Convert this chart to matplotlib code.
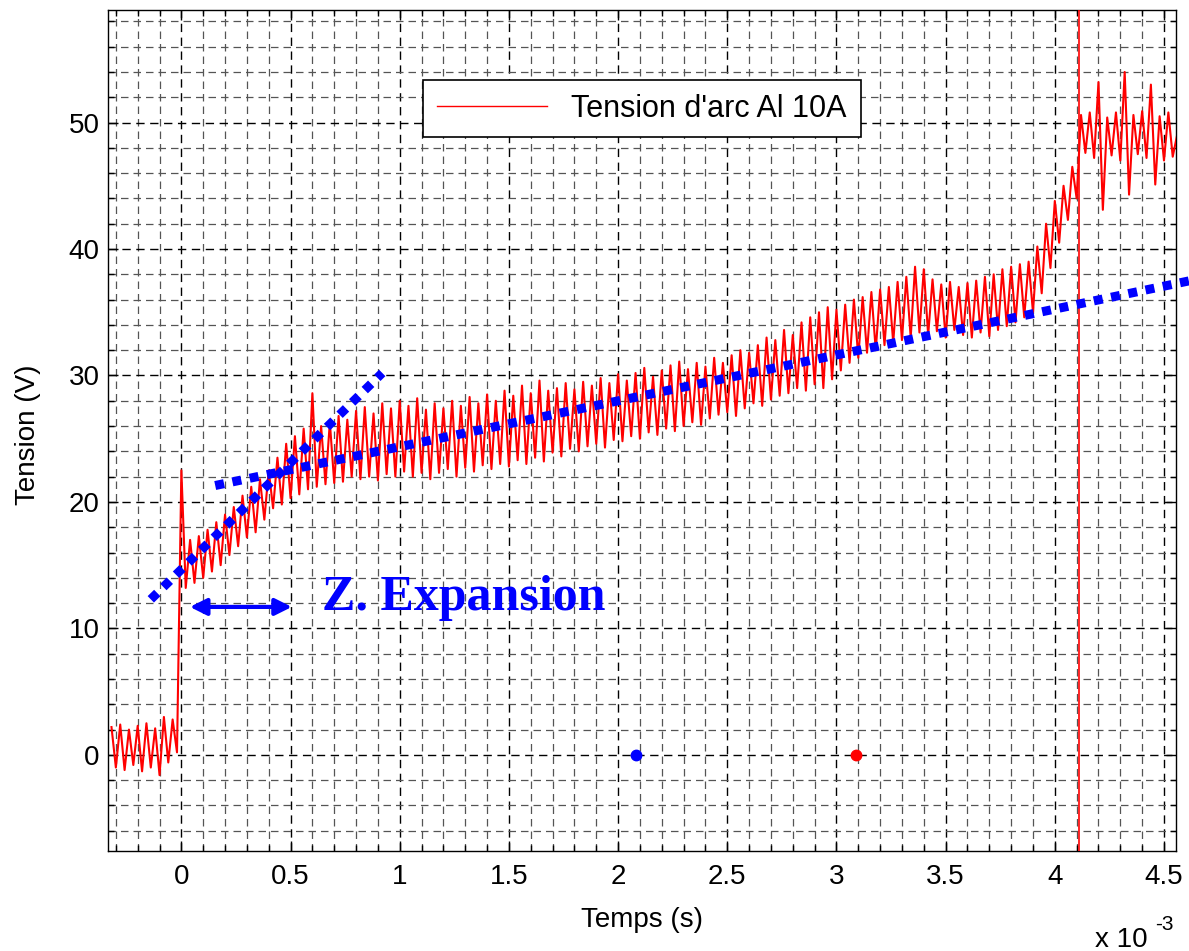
import numpy as np
import matplotlib
matplotlib.use("Agg")
import matplotlib.pyplot as plt
from matplotlib.ticker import MultipleLocator

plt.rcParams['font.family'] = ['Liberation Sans', 'DejaVu Sans']

# arc voltage, one sample every 0.02 ms starting at -0.32 ms
t_start = -0.32
dt = 0.02
tension = [
    2.2, -1.0, 2.4, -1.2, 2.0, -0.8, 2.3, -1.3, 2.5, -1.0, 2.1, -1.6, 3.0, -0.6, 2.8, 0.2,
    22.5, 13.2, 17.0, 13.6, 17.3, 14.0,
    17.8, 14.5, 18.4, 15.0, 19.0,
    15.8, 19.6, 16.5, 20.5, 17.2,
    21.2, 17.6, 21.8, 18.6, 22.5,
    19.5, 23.5, 19.8, 24.6, 20.3,
    25.2, 20.6, 25.8, 21.0, 28.6,
    21.2, 26.0, 21.4, 26.3, 21.5,
    26.8, 21.6, 26.5, 22.0, 27.2,
    21.8, 27.5, 22.0, 27.0, 21.7,
    27.8, 22.2, 27.4, 22.0, 28.0,
    22.4, 27.6, 22.0, 28.2, 22.3,
    27.3, 21.8, 27.8, 22.3, 27.4,
    22.6, 28.0, 22.0, 27.6, 22.7,
    28.3, 22.4, 27.8, 22.9, 28.5,
    22.6, 28.0, 23.0, 28.8, 22.8,
    28.4, 23.3, 29.2, 23.0, 28.6,
    23.5, 29.6, 23.2, 28.8, 23.9,
    29.0, 23.6, 29.4, 24.2, 28.9,
    24.0, 29.5, 24.4, 29.2, 24.6,
    29.8, 24.3, 29.4, 24.9, 30.1,
    24.8, 29.6, 25.2, 30.2, 25.0,
    30.6, 25.5, 29.9, 25.3, 30.4,
    25.8, 30.8, 25.6, 31.1, 26.0,
    30.5, 26.3, 31.0, 26.1, 30.7,
    26.6, 31.4, 26.9, 31.0, 27.1,
    31.6, 26.8, 32.0, 27.4, 31.8,
    27.8, 32.4, 27.6, 33.0, 28.1,
    32.8, 28.4, 33.6, 28.6, 33.2,
    29.0, 34.2, 28.8, 34.6, 29.3,
    35.0, 29.0, 35.4, 29.7, 35.2,
    30.4, 35.6, 31.0, 36.0, 31.4,
    36.2, 31.8, 36.6, 32.0, 36.8,
    32.4, 37.0, 32.6, 37.4, 32.8,
    37.8, 33.0, 38.6, 33.4, 38.4,
    33.2, 37.6, 33.5, 37.2, 33.0,
    37.4, 33.6, 37.0, 33.2, 37.3,
    33.0, 37.5, 33.4, 37.8, 33.1,
    38.0, 33.6, 38.4, 33.9, 38.6,
    34.2, 38.8, 34.6, 39.0, 35.0,
    40.2, 36.5, 42.0, 38.5, 43.8,
    40.5, 45.0, 42.3, 46.5, 44.0,
    50.6, 47.6, 50.8, 47.2, 53.2, 43.1, 50.4, 47.4, 50.8, 47.0, 54.0, 44.3,
    50.6, 47.5, 50.9, 47.2, 53.0, 45.1, 50.5, 47.0, 50.8, 47.3, 49.0,
]
temps = t_start + dt * np.arange(len(tension))

# hand drawn trend lines (ms, V)
trend1_t = [-0.14, 0.92]
trend1_v = [12.3, 30.2]
trend2_t = [0.155, 4.62]
trend2_v = [21.3, 37.5]

# expansion arrow (ms) and its height (V)
arrow_t = [0.039, 0.506]
arrow_v = 11.7

marker_t = [2.082, 3.090]
marker_v = [0, 0]
marker_c = ['blue', 'red']
vline_t = 4.111

x_ticks = [0, 0.5, 1, 1.5, 2, 2.5, 3, 3.5, 4, 4.5]
x_labels = ['0', '0.5', '1', '1.5', '2', '2.5', '3', '3.5', '4', '4.5']
y_ticks = [0, 10, 20, 30, 40, 50]

fig = plt.figure(figsize=(11.89, 9.51), dpi=100)
ax = fig.add_axes([108 / 1189, 1 - 851 / 951, 1068 / 1189, 841 / 951])

ax.plot(temps, tension, color='red', lw=1.5, label="Tension d'arc Al 10A", zorder=3)
ax.axvline(vline_t, color='red', lw=1.2, zorder=3)

ax.plot(trend1_t, trend1_v, color='blue', lw=6.5, linestyle=(0, (1.0, 0.95)), zorder=4)
ax.plot(trend2_t, trend2_v, color='blue', lw=6.5, linestyle=(0, (1.0, 0.95)), zorder=4, clip_on=False)

ax.annotate('', xy=(arrow_t[0], arrow_v), xytext=(arrow_t[1], arrow_v),
            arrowprops=dict(arrowstyle='<|-|>', color='blue', lw=3, mutation_scale=25,
                            shrinkA=0, shrinkB=0), zorder=5)
ax.text(0.643, 11.45, 'Z. Expansion', color='blue', fontsize=36, fontweight='bold',
        family='Liberation Serif', ha='left', va='baseline', zorder=5)

for mt, mv, mc in zip(marker_t, marker_v, marker_c):
    ax.plot(mt, mv, 'o', color=mc, markersize=7.5, zorder=5)

ax.set_xlim(-0.336, 4.555)
ax.set_ylim(-7.6, 58.9)
ax.set_xticks(x_ticks)
ax.set_xticklabels(x_labels)
ax.set_yticks(y_ticks)
ax.xaxis.set_minor_locator(MultipleLocator(0.1))
ax.yaxis.set_minor_locator(MultipleLocator(2))
ax.tick_params(which='both', direction='in', top=True, right=True, labelsize=20, width=1)
ax.tick_params(axis='x', which='major', pad=9, length=7)
ax.tick_params(axis='y', which='major', pad=6, length=7)
ax.tick_params(which='minor', length=4)

ax.set_axisbelow(True)
ax.grid(which='major', color='black', linestyle=(0, (6, 4)), linewidth=1.0)
ax.grid(which='minor', color='#555555', linestyle=(0, (6, 4)), linewidth=0.9)
for sp in ax.spines.values():
    sp.set_linewidth(1.0)

leg = ax.legend(loc='upper left', bbox_to_anchor=(0.295, 0.917), fancybox=False,
                edgecolor='black', framealpha=1, handlelength=3.6, fontsize=22,
                borderaxespad=0, borderpad=0.45)
leg.get_frame().set_linewidth(1.2)
leg.get_lines()[0].set_linewidth(1.0)

fig.text(28 / 1189, 1 - 435 / 951, 'Tension (V)', rotation=90, ha='center', va='center', fontsize=20)
fig.text(642 / 1189, 1 - 920 / 951, 'Temps (s)', ha='center', va='center', fontsize=20)
fig.text(1095 / 1189, 1 - 947 / 951, 'x 10', ha='left', va='baseline', fontsize=20)
fig.text(1155 / 1189, 1 - 930 / 951, '-3', ha='left', va='baseline', fontsize=15)

fig.savefig('out.png', dpi=100)
